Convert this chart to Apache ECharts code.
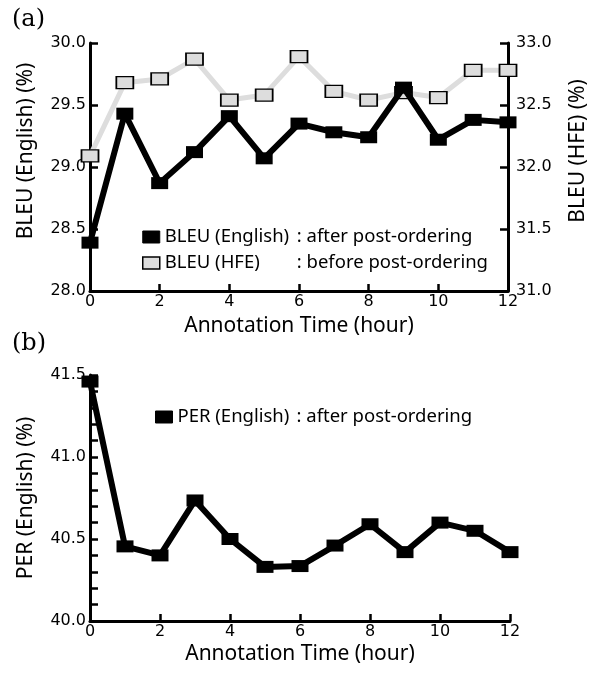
<!DOCTYPE html>
<html>
<head>
<meta charset="utf-8">
<script src="https://cdn.jsdelivr.net/npm/echarts@6/dist/echarts.min.js"></script>
<style>
  html, body { margin: 0; padding: 0; background: #fff; }
  #chart { width: 597px; height: 673px; }
</style>
</head>
<body>
<div id="chart"></div>
<script>
// annotation time, hours
const hours = [0, 1, 2, 3, 4, 5, 6, 7, 8, 9, 10, 11, 12];
// (a) BLEU values
const bleuEnglish = [28.39, 29.43, 28.87, 29.12, 29.41, 29.07, 29.35, 29.28, 29.24, 29.64, 29.22, 29.38, 29.36];
const bleuHFE = [32.09, 32.68, 32.71, 32.87, 32.54, 32.58, 32.89, 32.61, 32.54, 32.60, 32.56, 32.78, 32.78];
// (b) PER values
const perEnglish = [41.46, 40.455, 40.40, 40.735, 40.50, 40.33, 40.335, 40.46, 40.59, 40.42, 40.60, 40.55, 40.42];

const pairs = (ys) => hours.map((h, i) => [h, ys[i]]);

const tickFont = { fontFamily: 'DejaVu Sans', fontSize: 16, color: '#000' };
const nameFont = { fontFamily: 'Noto Sans', fontSize: 21, color: '#000' };
const legendFont = { fontFamily: 'Noto Sans', fontSize: 18.5, color: '#000', lineHeight: 20 };
const axisLine = { show: true, onZero: false, lineStyle: { color: '#000', width: 3 } };

function xAxisFor(gridIndex, gap) {
  return {
    type: 'value', gridIndex, min: 0, max: 12, interval: 2,
    name: 'Annotation Time (hour)', nameLocation: 'middle', nameGap: gap,
    nameTextStyle: nameFont,
    axisLine,
    axisTick: { inside: true, length: 7, lineStyle: { width: 2.5 } },
    axisLabel: Object.assign({ margin: 3 }, tickFont),
    splitLine: { show: false }
  };
}

let chart = echarts.init(document.getElementById('chart'));
chart.setOption({
  animation: false,
  grid: [
    { left: 90, right: 87, top: 43, height: 248 },
    { left: 90, right: 87, top: 375, height: 246 }
  ],
  xAxis: [xAxisFor(0, 25), xAxisFor(1, 23)],
  yAxis: [
    {
      type: 'value', gridIndex: 0, min: 28, max: 30, interval: 0.5, position: 'left',
      name: 'BLEU (English) (%)', nameLocation: 'middle', nameRotate: 90, nameGap: 53,
      nameTextStyle: Object.assign({ padding: [0, 0, 0, 32] }, nameFont),
      axisLine,
      axisTick: { inside: true, length: 8, lineStyle: { width: 2.5 } },
      axisLabel: Object.assign({ margin: 4, formatter: v => v.toFixed(1) }, tickFont),
      splitLine: { show: false }
    },
    {
      type: 'value', gridIndex: 0, min: 31, max: 33, interval: 0.5, position: 'right',
      name: 'BLEU (HFE) (%)', nameLocation: 'middle', nameRotate: 90, nameGap: 60,
      nameTextStyle: Object.assign({ padding: [0, 0, 0, 32] }, nameFont),
      axisLine,
      axisTick: { inside: true, length: 8, lineStyle: { width: 2.5 } },
      axisLabel: Object.assign({ margin: 8, formatter: v => v.toFixed(1) }, tickFont),
      splitLine: { show: false }
    },
    {
      type: 'value', gridIndex: 1, min: 40, max: 41.5, interval: 0.5, position: 'left',
      name: 'PER (English) (%)', nameLocation: 'middle', nameRotate: 90, nameGap: 53,
      nameTextStyle: nameFont,
      axisLine,
      axisTick: { inside: true, length: 8, lineStyle: { width: 2.5 } },
      minorTick: { show: true, splitNumber: 5, length: 8, lineStyle: { color: '#000', width: 2.5 } },
      axisLabel: Object.assign({ margin: 4, formatter: v => v.toFixed(1) }, tickFont),
      splitLine: { show: false }
    }
  ],
  legend: [
    {
      orient: 'vertical', left: 142, top: 227, padding: 0,
      itemWidth: 17, itemHeight: 12, itemGap: 6, icon: 'rect',
      data: [
        { name: 'BLEU (English)', itemStyle: { color: '#000', borderColor: '#000', borderWidth: 1 } },
        { name: 'BLEU (HFE)', itemStyle: { color: '#ddd', borderColor: '#000', borderWidth: 1.5 } }
      ],
      formatter: (n) => n === 'BLEU (English)'
        ? '{n|BLEU (English)}{c|: after post-ordering}'
        : '{n|BLEU (HFE)}{c|: before post-ordering}',
      textStyle: Object.assign({
        rich: {
          n: Object.assign({ width: 132 }, legendFont),
          c: legendFont
        }
      }, legendFont)
    },
    {
      left: 155, top: 407, padding: 0, itemWidth: 17, itemHeight: 12, icon: 'rect',
      data: [{ name: 'PER (English)', itemStyle: { color: '#000', borderColor: '#000', borderWidth: 1 } }],
      formatter: '{n|PER (English)}{c|: after post-ordering}',
      textStyle: Object.assign({
        rich: {
          n: Object.assign({ width: 119 }, legendFont),
          c: legendFont
        }
      }, legendFont)
    }
  ],
  graphic: [
    { type: 'text', left: 12, top: 8, style: { text: '(a)', font: '24px "DejaVu Serif"', fill: '#000' } },
    { type: 'text', left: 12, top: 332, style: { text: '(b)', font: '24px "DejaVu Serif"', fill: '#000' } }
  ],
  series: [
    {
      name: 'BLEU (HFE)', type: 'line', xAxisIndex: 0, yAxisIndex: 1, data: pairs(bleuHFE),
      symbol: 'rect', symbolSize: [17, 12], clip: false, z: 2,
      lineStyle: { color: '#ddd', width: 5 },
      itemStyle: { color: '#ddd', borderColor: '#000', borderWidth: 1.5 }
    },
    {
      name: 'BLEU (English)', type: 'line', xAxisIndex: 0, yAxisIndex: 0, data: pairs(bleuEnglish),
      symbol: 'rect', symbolSize: [17, 12], clip: false, z: 3,
      lineStyle: { color: '#000', width: 6 },
      itemStyle: { color: '#000' }
    },
    {
      name: 'PER (English)', type: 'line', xAxisIndex: 1, yAxisIndex: 2, data: pairs(perEnglish),
      symbol: 'rect', symbolSize: [17, 12], clip: false, z: 3,
      lineStyle: { color: '#000', width: 6 },
      itemStyle: { color: '#000' }
    }
  ]
});
</script>
</body>
</html>
